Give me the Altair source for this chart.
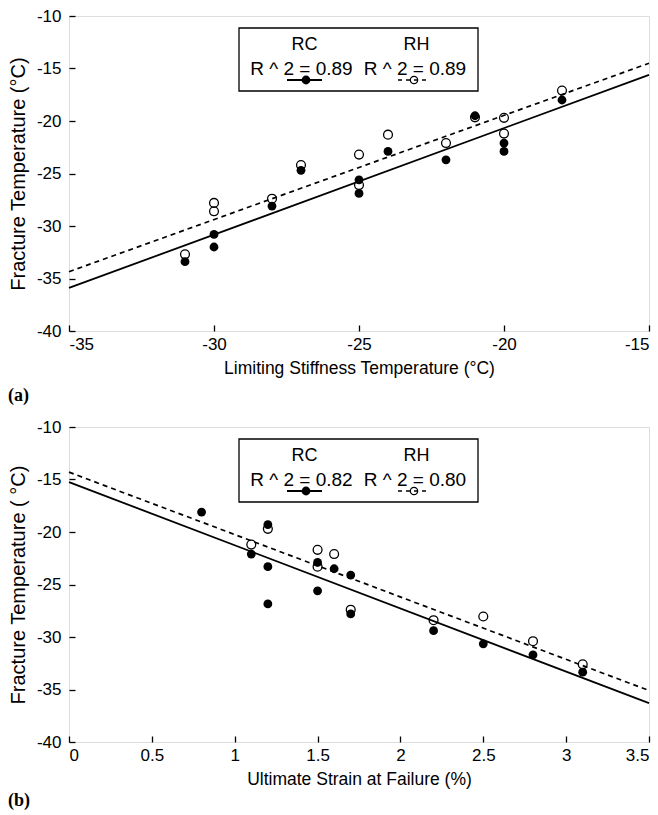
import altair as alt
import pandas as pd

FONT = "Liberation Sans"
TAG_FONT = "Liberation Serif"

series = ["RC", "RH"]

# Panel (a): fracture temperature vs limiting stiffness temperature
lst_rc = [-31, -30, -30, -28, -27, -25, -25, -24, -22, -21, -20, -20, -18]
ft_rc_a = [-33.4, -30.8, -32.0, -28.1, -24.7, -25.6, -26.9, -22.9, -23.7, -19.5, -22.1, -22.9, -18.0]
lst_rh = [-31, -30, -30, -28, -27, -25, -25, -24, -22, -21, -20, -20, -18]
ft_rh_a = [-32.7, -27.8, -28.6, -27.4, -24.2, -23.2, -26.1, -21.3, -22.1, -19.65, -19.7, -21.2, -17.1]
fit_x_a = [-35, -15]
fit_rc_a = [-35.9, -15.6]
fit_rh_a = [-34.35, -14.5]
r2_a = [0.89, 0.89]
x_ticks_a = [-35, -30, -25, -20, -15]

# Panel (b): fracture temperature vs ultimate strain at failure
strain_rc = [0.8, 1.1, 1.2, 1.2, 1.2, 1.5, 1.5, 1.6, 1.7, 1.7, 2.2, 2.5, 2.8, 3.1]
ft_rc_b = [-18.1, -22.1, -19.3, -23.3, -26.85, -22.9, -25.6, -23.5, -24.1, -27.8, -29.4, -30.65, -31.7, -33.35]
strain_rh = [1.1, 1.2, 1.5, 1.5, 1.6, 1.7, 2.2, 2.5, 2.8, 3.1]
ft_rh_b = [-21.2, -19.7, -21.7, -23.3, -22.1, -27.4, -28.4, -28.05, -30.4, -32.6]
fit_x_b = [0, 3.5]
fit_rc_b = [-15.25, -36.3]
fit_rh_b = [-14.3, -35.1]
r2_b = [0.82, 0.80]
x_ticks_b = [0, 0.5, 1, 1.5, 2, 2.5, 3, 3.5]

y_ticks = [-40, -37.5, -35, -32.5, -30, -27.5, -25, -22.5, -20, -17.5, -15, -12.5, -10]

W, H = 580, 315


def panel(xs_rc, ys_rc, xs_rh, ys_rh, fit_x, fit_rc, fit_rh, r2, x_dom, x_ticks,
          x_title, y_title, tag, tag_y):
    x_axis = alt.Axis(values=x_ticks, labelExpr="'' + datum.value", tickSize=6, offset=-6,
                      domain=False, grid=False, labelPadding=5, labelFontSize=17,
                      labelFont=FONT, labelColor="black", tickColor="black", tickWidth=1.3,
                      title=x_title, titleFont=FONT, titleFontSize=17.5,
                      titleFontWeight="normal", titleColor="black", titlePadding=7)
    y_axis = alt.Axis(values=y_ticks,
                      labelExpr="datum.value % 5 == 0 ? '' + datum.value : ''",
                      tickSize=6, offset=-6, domain=False, grid=False, labelPadding=8,
                      labelFontSize=17, labelFont=FONT, labelColor="black",
                      tickColor="black", tickWidth=1.3, title=y_title, titleFont=FONT,
                      titleFontSize=20, titleFontWeight="normal", titleColor="black",
                      titlePadding=8)
    xs = alt.Scale(domain=x_dom, nice=False, zero=False)
    ys = alt.Scale(domain=[-40, -10], nice=False, zero=False)

    rc = pd.DataFrame({"x": xs_rc, "y": ys_rc})
    rh = pd.DataFrame({"x": xs_rh, "y": ys_rh})
    fits = pd.DataFrame({"x": fit_x, "rc": fit_rc, "rh": fit_rh})
    one = pd.DataFrame({"k": [0]})

    open_pts = alt.Chart(rh).mark_point(shape="circle", size=78, filled=False,
                                        stroke="black", strokeWidth=1.3, opacity=1).encode(
        x=alt.X("x:Q", scale=xs, axis=x_axis), y=alt.Y("y:Q", scale=ys, axis=y_axis))
    fill_pts = alt.Chart(rc).mark_point(shape="circle", size=78, filled=True,
                                        color="black", opacity=1).encode(
        x=alt.X("x:Q", scale=xs), y=alt.Y("y:Q", scale=ys))
    line_rc = alt.Chart(fits).mark_line(color="black", strokeWidth=1.8).encode(
        x=alt.X("x:Q", scale=xs), y=alt.Y("rc:Q", scale=ys))
    line_rh = alt.Chart(fits).mark_line(color="black", strokeWidth=1.7,
                                        strokeDash=[5, 4]).encode(
        x=alt.X("x:Q", scale=xs), y=alt.Y("rh:Q", scale=ys))

    # legend box with series names, R^2 values and line/marker keys
    box = alt.Chart(one).mark_rect(fill="white", stroke="black", strokeWidth=1.3).encode(
        x=alt.value(170), x2=alt.value(409), y=alt.value(12), y2=alt.value(75))
    heads = [
        alt.Chart(one).mark_text(font=FONT, fontSize=18, color="black").encode(
            x=alt.value(cx), y=alt.value(29), text=alt.value(name))
        for name, cx in zip(series, [235.5, 347.5])
    ]
    r2_text = [
        alt.Chart(one).mark_text(font=FONT, fontSize=19, color="black").encode(
            x=alt.value(cx), y=alt.value(53), text=alt.value(f"R ^ 2 = {v:.2f}"))
        for v, cx in zip(r2, [232.5, 346])
    ]
    key_rc = alt.Chart(one).mark_rule(color="black", strokeWidth=1.8).encode(
        x=alt.value(218), x2=alt.value(253), y=alt.value(64))
    key_rh = alt.Chart(one).mark_rule(color="black", strokeWidth=1.6,
                                      strokeDash=[4, 4]).encode(
        x=alt.value(329), x2=alt.value(361), y=alt.value(64))
    key_dot = alt.Chart(one).mark_point(shape="circle", size=78, filled=True,
                                        color="black", opacity=1).encode(
        x=alt.value(237), y=alt.value(64))
    key_ring = alt.Chart(one).mark_point(shape="circle", size=55, filled=False,
                                         stroke="black", strokeWidth=1.2, opacity=1).encode(
        x=alt.value(345), y=alt.value(64))
    tag_text = alt.Chart(one).mark_text(font=TAG_FONT, fontSize=18, fontWeight="bold",
                                        color="black", align="left").encode(
        x=alt.value(-61), y=alt.value(tag_y), text=alt.value(tag))

    return alt.layer(open_pts, fill_pts, line_rc, line_rh, box, *heads, *r2_text,
                     key_rc, key_rh, key_dot, key_ring, tag_text).properties(width=W, height=H)


top = panel(lst_rc, ft_rc_a, lst_rh, ft_rh_a, fit_x_a, fit_rc_a, fit_rh_a, r2_a,
            [-35, -15], x_ticks_a, "Limiting Stiffness Temperature (°C)",
            "Fracture Temperature (°C)", "(a)", 380)
bottom = panel(strain_rc, ft_rc_b, strain_rh, ft_rh_b, fit_x_b, fit_rc_b, fit_rh_b, r2_b,
               [0, 3.5], x_ticks_b, "Ultimate Strain at Failure (%)",
               "Fracture Temperature ( °C)", "(b)", 374)

chart = alt.vconcat(top, bottom, spacing=11).properties(
    padding={"left": 7, "top": 6, "right": 0, "bottom": 0}
).configure_view(stroke="black", strokeWidth=1.5).configure(background="white")

chart.save("out.html", embed_options={"renderer": "svg", "actions": False})
